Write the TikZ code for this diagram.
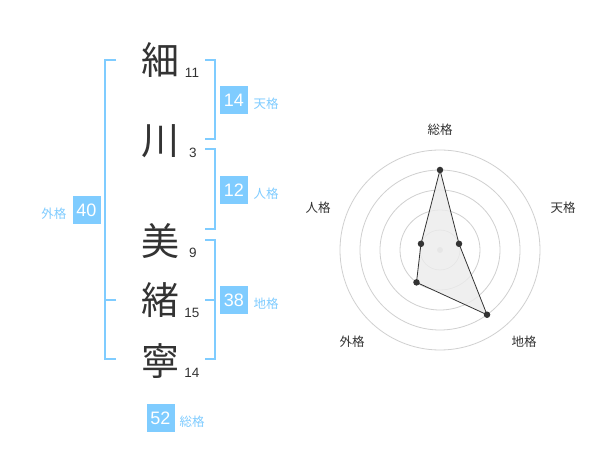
\documentclass[tikz,border=0pt]{standalone}
\usepackage{fontspec}
\setmainfont{Liberation Sans}
\newfontfamily\jp{Noto Sans CJK JP}
\definecolor{kblue}{RGB}{127,204,255}
\definecolor{ink}{RGB}{51,51,51}
\definecolor{ringgray}{RGB}{208,208,208}
\begin{document}
\begin{tikzpicture}[x=1pt,y=-1pt,
  kanji/.style={font=\jp\fontsize{38}{38}\selectfont, text=ink, inner sep=0pt},
  strokenum/.style={font=\fontsize{13.5}{13.5}\selectfont, text=ink, inner sep=0pt},
  valbox/.style={fill=kblue, text=white, minimum width=28pt, minimum height=28pt, inner sep=0pt, font=\fontsize{18}{18}\selectfont},
  kaku/.style={font=\jp\fontsize{12.5}{12.5}\selectfont, text=kblue, inner sep=0pt},
  axislabel/.style={font=\jp\fontsize{12.5}{12.5}\selectfont, text=ink, inner sep=0pt},
  bracket/.style={draw=kblue, line width=2pt},
  ring/.style={draw=ringgray, line width=0.8pt},
  dot/.style={circle, fill=ink, minimum size=6.5pt, inner sep=0pt},
  poly/.style={draw=ink, line width=0.8pt, fill=gray!15, fill opacity=0.8}
]
\useasboundingbox[fill=white] (0,0) rectangle (600,470);

% kanji
\node[kanji] (k1) at (160,60) {細};
\node[kanji] (k2) at (160,141) {川};
\node[kanji] (k3) at (160,241) {美};
\node[kanji] (k4) at (160,300) {緒};
\node[kanji] (k5) at (160,361) {寧};

% stroke counts
\node[strokenum] (s1) at (192,73) {11};
\node[strokenum] (s2) at (193,153) {3};
\node[strokenum] (s3) at (193,253) {9};
\node[strokenum] (s4) at (192,313) {15};
\node[strokenum] (s5) at (192,373) {14};

% bracket end points
\coordinate (gT) at (116,60);
\coordinate (gB) at (116,359);
\coordinate (gM) at (116,300);
\coordinate (tT) at (205,60);
\coordinate (tB) at (205,139);
\coordinate (jT) at (205,149);
\coordinate (jB) at (205,229);
\coordinate (cT) at (205,240);
\coordinate (cM) at (205,300);
\coordinate (cB) at (205,359);

% brackets
\draw[bracket] (gT) -- (105,60) -- (105,359) -- (gB);
\draw[bracket] (gM) -- (105,300);
\draw[bracket] (tT) -- (215,60) -- (215,139) -- (tB);
\draw[bracket] (jT) -- (215,149) -- (215,229) -- (jB);
\draw[bracket] (cT) -- (215,240) -- (215,359) -- (cB);
\draw[bracket] (cM) -- (215,300);

% value boxes and labels
\node[valbox] (v14) at (234,100) {14};
\node[kaku] (l14) at (266,104) {天格};
\node[valbox] (v12) at (234,190) {12};
\node[kaku] (l12) at (266,194) {人格};
\node[valbox] (v38) at (234,300) {38};
\node[kaku] (l38) at (266,304) {地格};
\node[valbox] (v40) at (86.5,210) {40};
\node[kaku] (l40) at (54,214) {外格};
\node[valbox] (v52) at (160.5,418) {52};
\node[kaku] (l52) at (192,422) {総格};

% radar chart
\coordinate (rc) at (440,250);
\foreach \r in {20,40,60,80,100}
  \draw[ring] (rc) circle[radius=\r pt];
\fill[ringgray] (rc) circle[radius=3pt];

\node[axislabel] (a1) at (440,130) {総格};
\node[axislabel] (a2) at (563,208) {天格};
\node[axislabel] (a3) at (524,342) {地格};
\node[axislabel] (a4) at (352,342) {外格};
\node[axislabel] (a5) at (318,208) {人格};

\coordinate (p1) at (440,170);
\coordinate (p2) at (459.02,243.82);
\coordinate (p3) at (487.02,314.72);
\coordinate (p4) at (416.49,282.36);
\coordinate (p5) at (420.98,243.82);
\draw[poly] (p1) -- (p2) -- (p3) -- (p4) -- (p5) -- cycle;
\foreach \p in {p1,p2,p3,p4,p5}
  \node[dot] at (\p) {};
\end{tikzpicture}
\end{document}
